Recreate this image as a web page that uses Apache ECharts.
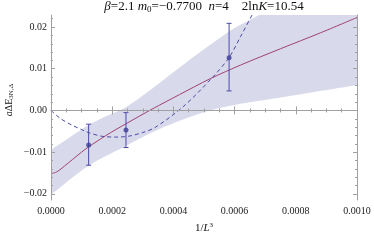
<!DOCTYPE html>
<html><head><meta charset="utf-8">
<script src="https://cdn.jsdelivr.net/npm/echarts@6/dist/echarts.min.js"></script>
<style>html,body{margin:0;padding:0;background:#fff}#c{width:374px;height:242px}</style>
</head><body><div id="c"></div>
<script>
// ---- data ----
const ptX = [0.000123, 0.000245, 0.000582];
const ptY = [-0.00827, -0.00468, 0.01266];
const errLo = [-0.01315, -0.0089, 0.00468];
const errHi = [-0.0033, -0.00053, 0.0209];

const fitX = [0, 0.00002, 0.000045, 0.00007, 0.0001, 0.000122, 0.00018, 0.000245, 0.00033, 0.00042, 0.00052, 0.00062, 0.00075, 0.00088, 0.001];
const fitY = [-0.0152, -0.0147, -0.0133, -0.0118, -0.0100, -0.0088, -0.0060, -0.0032, 0.0003, 0.0038, 0.0076, 0.0109, 0.0148, 0.0186, 0.0223];

const quadX = [0, 0.00003, 0.0000675, 0.0001, 0.000122, 0.000166, 0.00021, 0.000253, 0.0003, 0.00034, 0.000432, 0.000525, 0.000582, 0.00062, 0.00066, 0.0007];
const quadY = [0, -0.0019, -0.0035, -0.0046, -0.0053, -0.0062, -0.0064, -0.0062, -0.0053, -0.0041, 0.0009, 0.0077, 0.0127, 0.0178, 0.0233, 0.029];

const bandX = [0, 0.00003, 0.00007, 0.00012, 0.00018, 0.00024, 0.0003, 0.00036, 0.00042, 0.00048, 0.00054, 0.0006, 0.00068, 0.0008, 0.001];
const bandUp = [-0.0095, -0.0080, -0.0060, -0.0036, -0.0014, 0.0006, 0.0036, 0.0069, 0.0103, 0.0136, 0.0168, 0.0198, 0.0229, 0.028, 0.036];
const bandLo = [-0.0202, -0.0185, -0.0161, -0.0134, -0.0109, -0.0087, -0.0064, -0.0043, -0.0025, -0.0009, 0.0004, 0.0013, 0.0023, 0.0037, 0.0061];

const yMajor = [-0.02, -0.01, 0, 0.01, 0.02];
const yMinor = [-0.018, -0.016, -0.014, -0.012, -0.008, -0.006, -0.004, -0.002, 0.002, 0.004, 0.006, 0.008, 0.012, 0.014, 0.016, 0.018, 0.022];

// ---- chart ----
const FONT = '"Liberation Serif", "DejaVu Serif", serif';
const frameCol = '#a0a0a0';
const blue = '#3d3d99';
const magenta = '#9e4273';
const Y_MIN = -0.0215, Y_MAX = 0.0229;

const chart = echarts.init(document.getElementById('c'), null, {renderer: 'canvas'});
const zip = (xs, ys) => xs.map((x, i) => [x, ys[i]]);

function xAxisCfg(pos, showLabel) {
  return {
    type: 'value', position: pos, min: 0, max: 0.001, interval: 0.0002, z: 10,
    axisLine: {show: true, lineStyle: {color: frameCol, width: 1}},
    axisTick: {show: true, inside: true, length: 4, lineStyle: {color: frameCol}},
    minorTick: {show: true, splitNumber: 4, length: 2, lineStyle: {color: frameCol}},
    splitLine: {show: false}, minorSplitLine: {show: false},
    axisLabel: {show: showLabel, margin: 6, fontSize: 10, fontFamily: FONT, color: '#222',
      formatter: v => v.toFixed(4)}
  };
}
function yAxisCfg(pos, vals, len, showLabel, showLine) {
  return {
    type: 'value', position: pos, min: Y_MIN, max: Y_MAX, z: 10,
    axisLine: {show: showLine, lineStyle: {color: frameCol, width: 1}},
    axisTick: {show: true, inside: true, length: len, customValues: vals, lineStyle: {color: frameCol}},
    splitLine: {show: false},
    axisLabel: {show: showLabel, customValues: vals, margin: 4, fontSize: 10, fontFamily: FONT, color: '#222',
      formatter: v => v.toFixed(2).replace('-', '\u2212')}
  };
}

const option = {
  animation: false,
  backgroundColor: '#fff',
  grid: {left: 51, right: 17, top: 15, bottom: 42, containLabel: false},
  xAxis: [xAxisCfg('bottom', true), xAxisCfg('top', false)],
  yAxis: [
    yAxisCfg('left', yMajor, 4, true, true),
    yAxisCfg('left', yMinor, 2, false, false),
    yAxisCfg('right', yMajor, 4, false, true),
    yAxisCfg('right', yMinor, 2, false, false)
  ],
  graphic: [
    {type: 'text', x: 204, y: 7, style: {
      text: '{i|\u03b2}=2.1 {i|m}{s|0}=\u22120.7700  {i|n}=4    2ln{i|K}=10.54',
      align: 'center', verticalAlign: 'middle', fontFamily: FONT, fontSize: 13, fill: '#111',
      rich: {
        i: {fontStyle: 'italic', fontFamily: FONT, fontSize: 13, lineHeight: 15},
        s: {fontFamily: FONT, fontSize: 9, padding: [6, 0, 0, 0], lineHeight: 9}
      }}},
    {type: 'text', x: 204, y: 228, style: {
      text: '1/{i|L}{p|3}', align: 'center', verticalAlign: 'middle', fontFamily: FONT, fontSize: 11, fill: '#111',
      rich: {
        i: {fontStyle: 'italic', fontFamily: FONT, fontSize: 11, lineHeight: 13},
        p: {fontFamily: FONT, fontSize: 7, padding: [0, 0, 5, 0], lineHeight: 7}
      }}},
    {type: 'text', x: 9, y: 100, rotation: Math.PI / 2, style: {
      text: '{i|a}\u0394E{s|3N,\u0394}', align: 'center', verticalAlign: 'middle', fontFamily: FONT, fontSize: 10, fill: '#111',
      rich: {
        i: {fontStyle: 'italic', fontFamily: FONT, fontSize: 10, lineHeight: 12},
        s: {fontFamily: FONT, fontSize: 7, padding: [5, 0, 0, 0], lineHeight: 7}
      }}}
  ],
  series: [
    // band: fill below upper edge with band colour, then cover below lower edge with white
    {type: 'line', name: 'bandUp', data: zip(bandX, bandUp), smooth: 0.3,
      symbol: 'none', lineStyle: {width: 0, opacity: 0},
      areaStyle: {color: '#d9d9ec', opacity: 1, origin: 'start'}, z: 1},
    {type: 'line', name: 'bandLo', data: zip(bandX, bandLo), smooth: 0.3,
      symbol: 'none', lineStyle: {width: 0, opacity: 0},
      areaStyle: {color: '#ffffff', opacity: 1, origin: 'start'}, z: 2},
    {type: 'line', name: 'fit', data: zip(fitX, fitY), smooth: 0.3, symbol: 'none',
      lineStyle: {color: magenta, width: 1}, z: 4,
      markLine: {silent: true, symbol: 'none', label: {show: false}, z: 3,
        lineStyle: {color: '#c0c0c0', width: 1.2, type: 'solid'}, data: [{yAxis: 0}]}},
    {type: 'line', name: 'quad', data: zip(quadX, quadY), smooth: 0.3, symbol: 'none',
      lineStyle: {color: '#4a4aa6', width: 1, type: [4, 3]}, z: 5},
    {type: 'custom', name: 'err', z: 6,
      data: ptX.map((x, i) => [x, errLo[i], errHi[i]]),
      renderItem: (params, api) => {
        const x = api.value(0);
        const lo = api.coord([x, api.value(1)]);
        const hi = api.coord([x, api.value(2)]);
        const st = {stroke: '#4a4aa6', lineWidth: 1};
        const w = 2.5;
        return {type: 'group', children: [
          {type: 'line', shape: {x1: lo[0], y1: lo[1], x2: hi[0], y2: hi[1]}, style: st},
          {type: 'line', shape: {x1: lo[0] - w, y1: lo[1], x2: lo[0] + w, y2: lo[1]}, style: st},
          {type: 'line', shape: {x1: hi[0] - w, y1: hi[1], x2: hi[0] + w, y2: hi[1]}, style: st}
        ]};
      }},
    {type: 'scatter', name: 'pts', data: zip(ptX, ptY), symbol: 'circle', symbolSize: 5,
      itemStyle: {color: blue}, z: 7}
  ]
};
chart.setOption(option);
</script>
</body></html>
